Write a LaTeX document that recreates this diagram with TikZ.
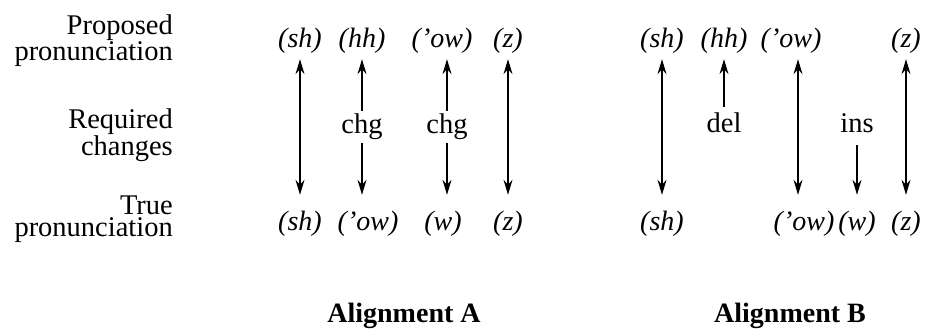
\documentclass[tikz,border=0pt]{standalone}
\usepackage{fontspec}
\setmainfont{Liberation Serif}
\usetikzlibrary{arrows.meta,positioning}

\begin{document}
\begin{tikzpicture}[x=1pt, y=-1pt,
                    >={Stealth[length=15pt, width=9pt, inset=5pt]},
                    every node/.style={font=\fontsize{28.5}{22}\selectfont},
                    link/.style={line width=1.2pt},
                    rowlabel/.style={anchor=east, align=right, inner sep=0pt},
                    phon/.style={anchor=base, font=\fontsize{28}{22}\selectfont\itshape, inner xsep=0pt, text height=20pt, text depth=6pt},
                    propphon/.style={phon, inner ysep=6pt},
                    truephon/.style={phon, inner ysep=15pt},
                    change/.style={anchor=base, inner xsep=0pt, inner ysep=6pt, text height=19pt, text depth=7pt},
                    caption/.style={anchor=base, font=\fontsize{28}{22}\selectfont\bfseries}
                ]
                    \useasboundingbox (0,0) rectangle (927,332);

                    % row labels
                    \node[rowlabel] (labProp) at (173,40.5) {Proposed\\pronunciation};
                    \node[rowlabel] (labReq) at (173,135.5) {Required\\changes};
                    \node[rowlabel] (labTrue) at (173,219.5) {True\\pronunciation};

                    % alignment A
                    \node[propphon] (pA1) at (300,47) {(sh)};
                    \node[propphon] (pA2) at (362,47) {(hh)};
                    \node[propphon] (pA3) at (442,47) {(’ow)};
                    \node[propphon] (pA4) at (508,47) {(z)};
                    \node[change, inner ysep=3pt] (cA2) at (362,133) {chg};
                    \node[change, inner ysep=3pt] (cA3) at (447,133) {chg};
                    \node[truephon] (tA1) at (300,230) {(sh)};
                    \node[truephon] (tA2) at (368,230) {(’ow)};
                    \node[truephon] (tA3) at (443,230) {(w)};
                    \node[truephon] (tA4) at (508,230) {(z)};

                    \draw[<->, link] (pA1) -- (tA1);
                    \draw[->, link] (cA2) -- (pA2);
                    \draw[->, link] (cA2) -- (cA2 |- tA2.north);
                    \draw[->, link] (cA3) -- (cA3 |- pA3.south);
                    \draw[->, link] (cA3) -- (cA3 |- tA3.north);
                    \draw[<->, link] (pA4) -- (tA4);

                    % alignment B
                    \node[propphon] (pB1) at (662,47) {(sh)};
                    \node[propphon] (pB2) at (724,47) {(hh)};
                    \node[propphon] (pB3) at (791,47) {(’ow)};
                    \node[propphon] (pB4) at (906,47) {(z)};
                    \node[change] (delB) at (724,132) {del};
                    \node[change] (insB) at (857,132) {ins};
                    \node[truephon] (tB1) at (662,230) {(sh)};
                    \node[truephon] (tB2) at (804,230) {(’ow)};
                    \node[truephon] (tB3) at (857,230) {(w)};
                    \node[truephon] (tB4) at (906,230) {(z)};
                    \coordinate (colB3) at (798,0);

                    \draw[<->, link] (pB1) -- (tB1);
                    \draw[->, link] (delB) -- (pB2);
                    \draw[<->, link] (pB3.south -| colB3) -- (tB2.north -| colB3);
                    \draw[->, link] (insB) -- (tB3);
                    \draw[<->, link] (pB4) -- (tB4);

                    \node[caption] (capA) at (404,322) {Alignment A};
                    \node[caption] (capB) at (790,322) {Alignment B};
                \end{tikzpicture}
\end{document}
